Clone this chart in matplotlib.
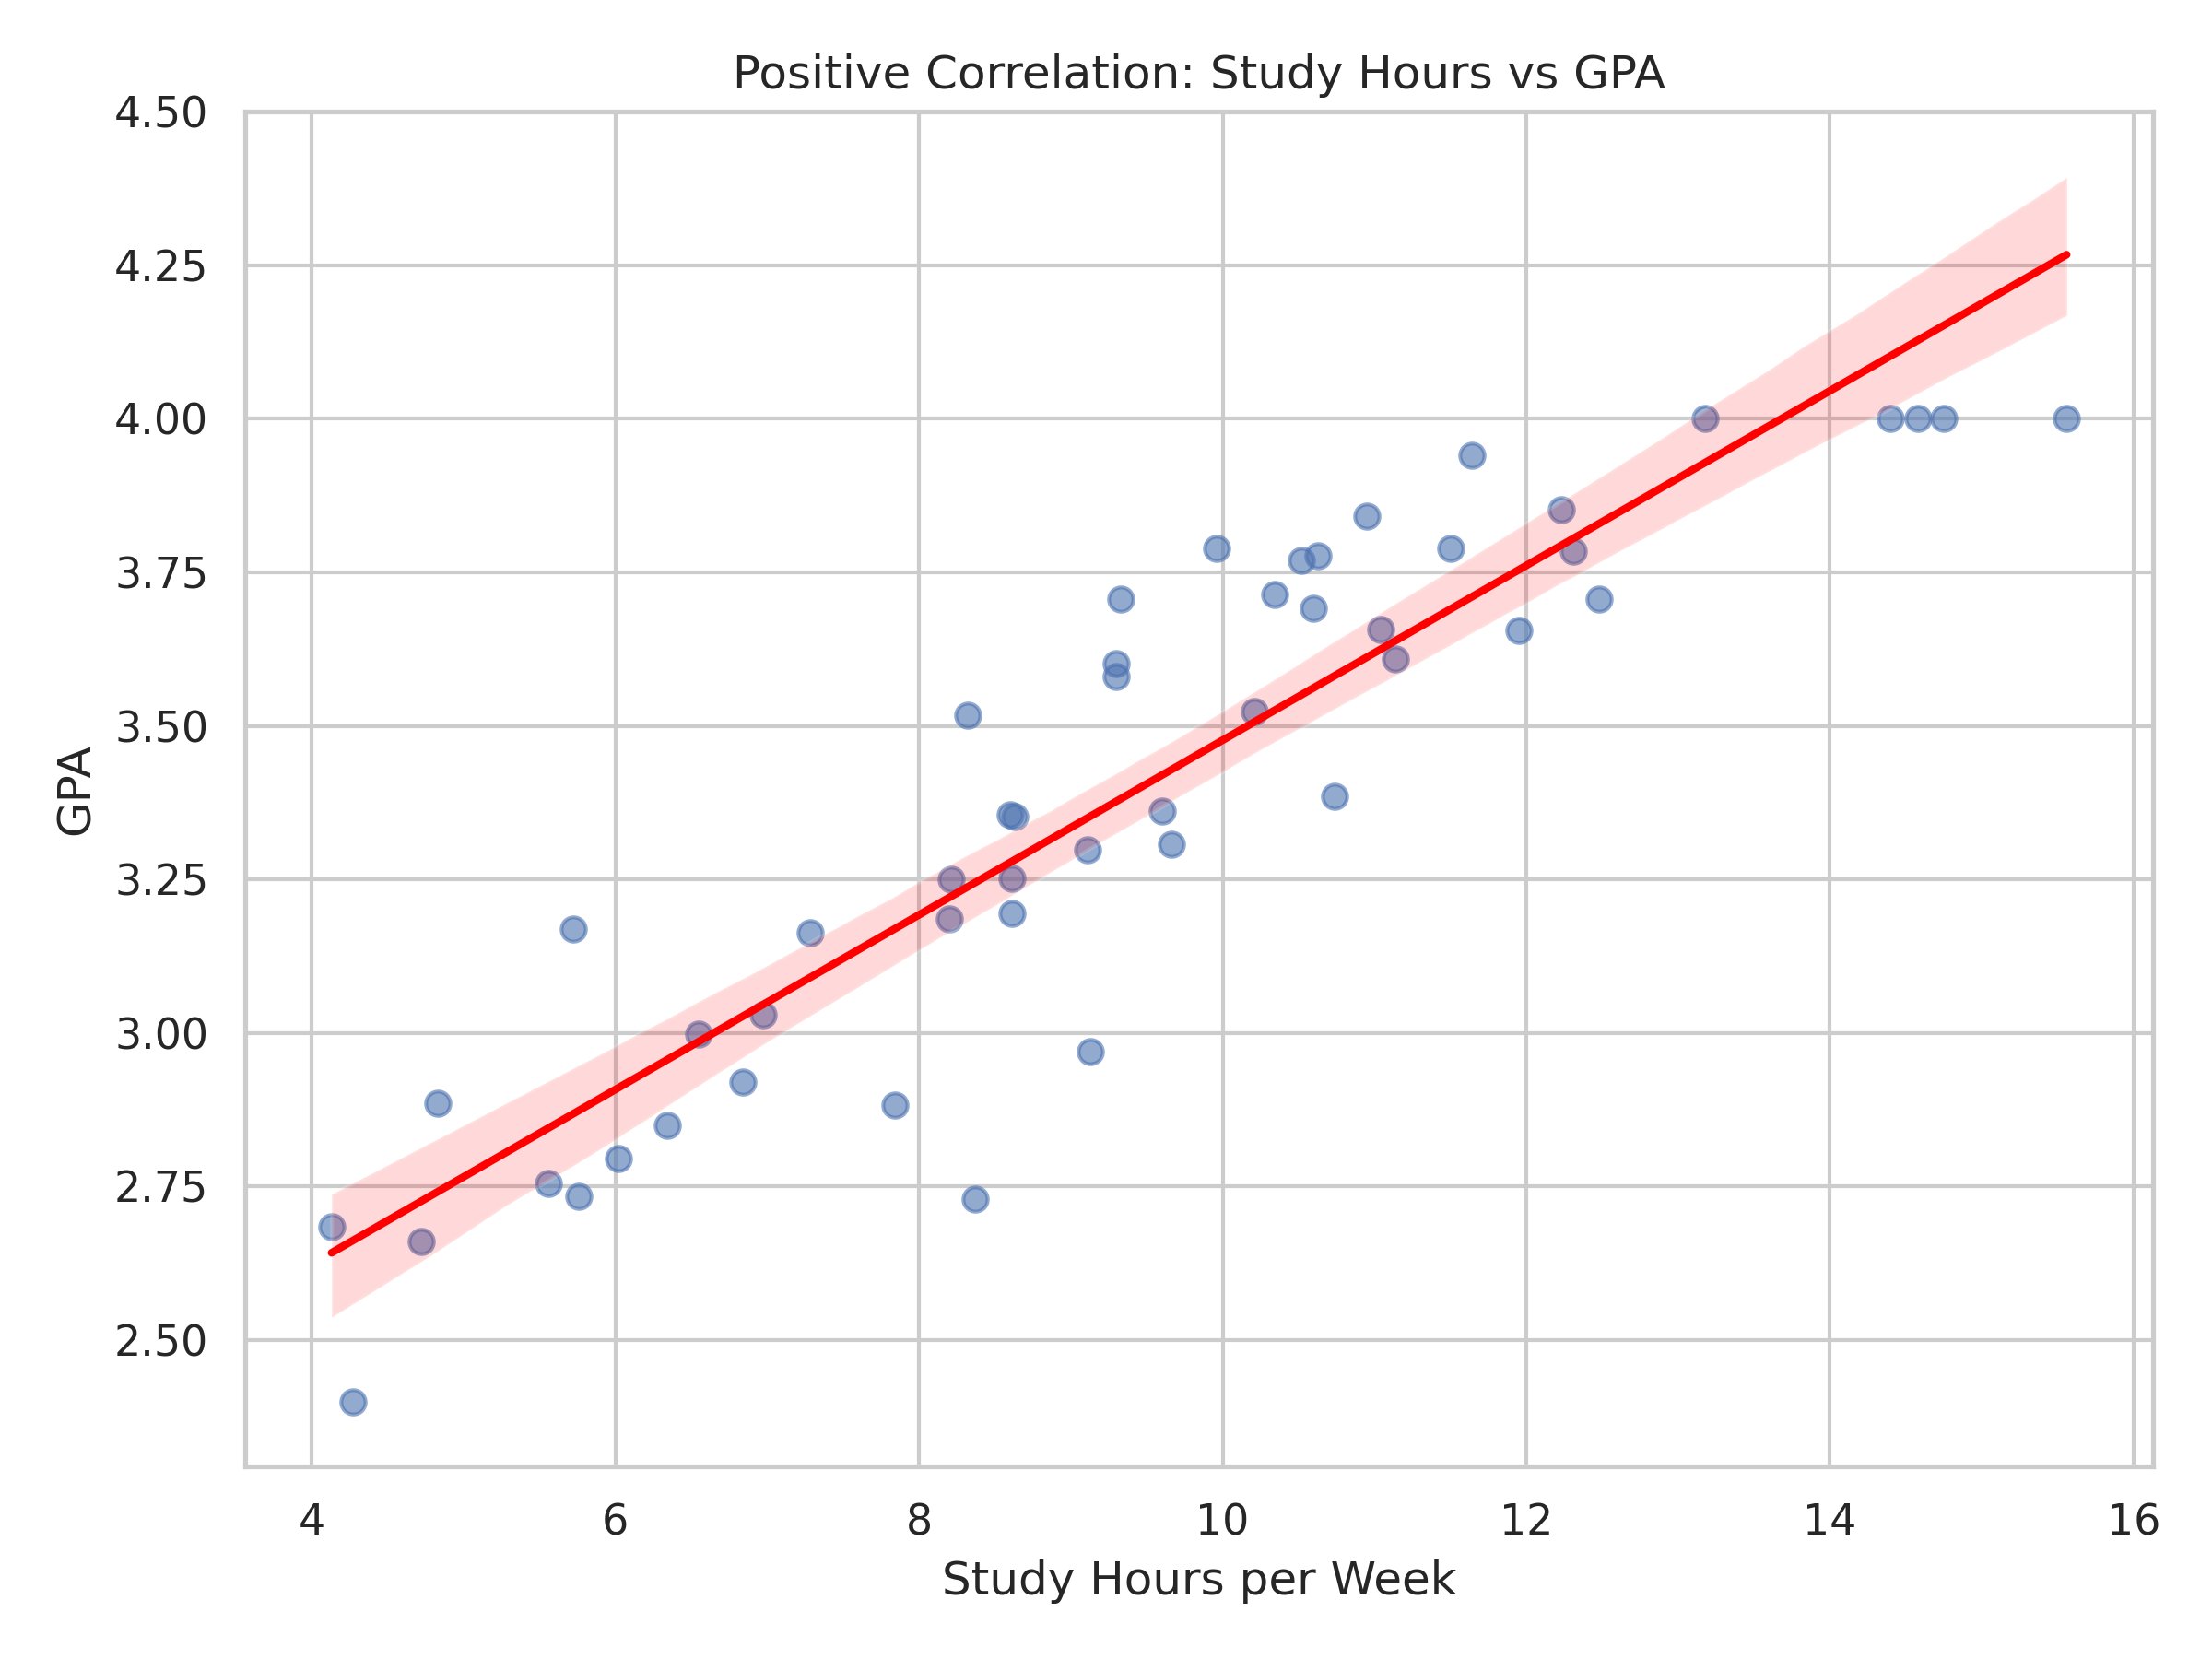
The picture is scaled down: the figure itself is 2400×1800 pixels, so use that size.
import numpy as np
import pandas as pd
import matplotlib
matplotlib.use("Agg")
import matplotlib.pyplot as plt
import seaborn as sns

study_hours = [4.13, 4.27, 4.72, 4.83, 5.56, 5.72, 5.76, 6.02, 6.34, 6.55,
               6.84, 6.97, 7.28, 7.84, 8.20, 8.21, 8.32, 8.37, 8.60, 8.63,
               8.61, 8.61, 9.11, 9.13, 9.30, 9.30, 9.33, 9.60, 9.66, 9.96,
               10.21, 10.34, 10.52, 10.60, 10.63, 10.74, 10.95, 11.04, 11.14, 11.50,
               11.64, 11.95, 12.23, 12.31, 12.48, 13.18, 14.40, 14.58, 14.75, 15.56]
gpa = [2.684, 2.40, 2.66, 2.885, 2.755, 3.17, 2.734, 2.795, 2.85, 2.998,
       2.92, 3.03, 3.164, 2.882, 3.186, 3.25, 3.518, 2.73, 3.355, 3.352,
       3.252, 3.195, 3.298, 2.970, 3.602, 3.58, 3.707, 3.361, 3.307, 3.789,
       3.523, 3.714, 3.77, 3.691, 3.777, 3.386, 3.841, 3.657, 3.609, 3.789,
       3.941, 3.655, 3.852, 3.784, 3.707, 4.0, 4.0, 4.0, 4.0, 4.0]

df = pd.DataFrame({"hours": study_hours, "gpa": gpa})

sns.set_theme(style="whitegrid")
fig, ax = plt.subplots(figsize=(8, 6))

sns.regplot(data=df, x="hours", y="gpa", ax=ax, seed=1,
            scatter_kws={"alpha": 0.6, "s": 40},
            line_kws={"color": "red", "linewidth": 2})
for coll in ax.collections[1:]:
    coll.set_facecolor((1, 0, 0, 0.15))

ax.set_ylim(2.295, 4.5)
ax.set_xlim(3.56, 16.13)
ax.set_xlabel("Study Hours per Week")
ax.set_ylabel("GPA")
ax.set_title("Positive Correlation: Study Hours vs GPA")

plt.tight_layout()
plt.savefig("out.png", dpi=300)
